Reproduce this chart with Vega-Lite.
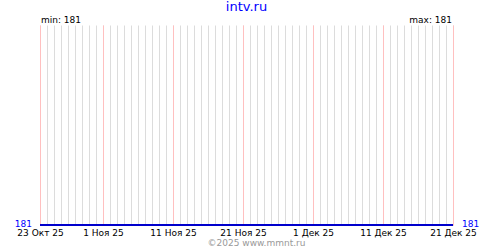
{
  "$schema": "https://vega.github.io/schema/vega-lite/v6.json",
  "width": 413,
  "height": 200,
  "autosize": {"type": "none"},
  "padding": {"left": 40, "top": 25, "right": 47, "bottom": 25},
  "background": "white",
  "title": {"text": "intv.ru", "color": "#0000ff", "fontSize": 13, "fontWeight": "normal", "font": "DejaVu Sans", "anchor": "middle", "offset": 2},
  "config": {"view": {"stroke": null}, "font": "DejaVu Sans"},
  "datasets": {
    "series": [
      {"date": "2025-10-23", "value": 181}, {"date": "2025-10-24", "value": 181}, {"date": "2025-10-25", "value": 181},
      {"date": "2025-10-26", "value": 181}, {"date": "2025-10-27", "value": 181}, {"date": "2025-10-28", "value": 181},
      {"date": "2025-10-29", "value": 181}, {"date": "2025-10-30", "value": 181}, {"date": "2025-10-31", "value": 181},
      {"date": "2025-11-01", "value": 181}, {"date": "2025-11-02", "value": 181}, {"date": "2025-11-03", "value": 181},
      {"date": "2025-11-04", "value": 181}, {"date": "2025-11-05", "value": 181}, {"date": "2025-11-06", "value": 181},
      {"date": "2025-11-07", "value": 181}, {"date": "2025-11-08", "value": 181}, {"date": "2025-11-09", "value": 181},
      {"date": "2025-11-10", "value": 181}, {"date": "2025-11-11", "value": 181}, {"date": "2025-11-12", "value": 181},
      {"date": "2025-11-13", "value": 181}, {"date": "2025-11-14", "value": 181}, {"date": "2025-11-15", "value": 181},
      {"date": "2025-11-16", "value": 181}, {"date": "2025-11-17", "value": 181}, {"date": "2025-11-18", "value": 181},
      {"date": "2025-11-19", "value": 181}, {"date": "2025-11-20", "value": 181}, {"date": "2025-11-21", "value": 181},
      {"date": "2025-11-22", "value": 181}, {"date": "2025-11-23", "value": 181}, {"date": "2025-11-24", "value": 181},
      {"date": "2025-11-25", "value": 181}, {"date": "2025-11-26", "value": 181}, {"date": "2025-11-27", "value": 181},
      {"date": "2025-11-28", "value": 181}, {"date": "2025-11-29", "value": 181}, {"date": "2025-11-30", "value": 181},
      {"date": "2025-12-01", "value": 181}, {"date": "2025-12-02", "value": 181}, {"date": "2025-12-03", "value": 181},
      {"date": "2025-12-04", "value": 181}, {"date": "2025-12-05", "value": 181}, {"date": "2025-12-06", "value": 181},
      {"date": "2025-12-07", "value": 181}, {"date": "2025-12-08", "value": 181}, {"date": "2025-12-09", "value": 181},
      {"date": "2025-12-10", "value": 181}, {"date": "2025-12-11", "value": 181}, {"date": "2025-12-12", "value": 181},
      {"date": "2025-12-13", "value": 181}, {"date": "2025-12-14", "value": 181}, {"date": "2025-12-15", "value": 181},
      {"date": "2025-12-16", "value": 181}, {"date": "2025-12-17", "value": 181}, {"date": "2025-12-18", "value": 181},
      {"date": "2025-12-19", "value": 181}, {"date": "2025-12-20", "value": 181}, {"date": "2025-12-21", "value": 181}
    ],
    "notes": [
      {"side": "min", "date": "2025-10-23", "label": "min: 181", "value": 181},
      {"side": "max", "date": "2025-12-21", "label": "max: 181", "value": 181}
    ]
  },
  "resolve": {"axis": {"x": "independent"}},
  "layer": [
    {
      "data": {"name": "series"},
      "mark": {"type": "line", "color": "#0000cc", "strokeWidth": 2, "interpolate": "linear"},
      "encoding": {
        "x": {
          "field": "date", "type": "temporal",
          "scale": {"type": "utc", "nice": false, "domain": [{"year": 2025, "month": 10, "date": 23, "utc": true}, {"year": 2025, "month": 12, "date": 21, "utc": true}]},
          "axis": {"orient": "top", "labels": false, "ticks": false, "domain": false, "title": null, "grid": true, "gridColor": "#dcdcdc", "gridOpacity": 1, "gridWidth": 1, "tickCount": {"interval": "day", "step": 1}}
        },
        "y": {
          "field": "value", "type": "quantitative",
          "scale": {"domain": [181, 182], "nice": false, "zero": false},
          "axis": {"values": [182], "labels": false, "ticks": false, "domain": false, "title": null, "grid": true, "gridColor": "#dcdcdc", "gridOpacity": 1}
        }
      }
    },
    {
      "data": {"name": "notes"},
      "transform": [{"filter": "datum.side == 'min'"}],
      "mark": {"type": "text", "color": "#0000ff", "align": "right", "baseline": "middle", "dx": -8, "dy": -1, "fontSize": 9},
      "encoding": {
        "x": {
          "field": "date", "type": "temporal",
          "axis": {
            "orient": "bottom",
            "values": [
              {"year": 2025, "month": 10, "date": 23, "utc": true},
              {"year": 2025, "month": 11, "date": 1, "utc": true},
              {"year": 2025, "month": 11, "date": 11, "utc": true},
              {"year": 2025, "month": 11, "date": 21, "utc": true},
              {"year": 2025, "month": 12, "date": 1, "utc": true},
              {"year": 2025, "month": 12, "date": 11, "utc": true},
              {"year": 2025, "month": 12, "date": 21, "utc": true}
            ],
            "labelExpr": "utcdate(datum.value) + ' ' + ['Янв','Фев','Мар','Апр','Май','Июн','Июл','Авг','Сен','Окт','Ноя','Дек'][utcmonth(datum.value)] + ' 25'",
            "labelFontSize": 9, "labelColor": "#000000", "labelPadding": 3, "labelOverlap": false, "labelFlush": false,
            "ticks": false, "domain": false,
            "grid": true, "gridColor": "#ffc0c0", "gridOpacity": 1, "gridWidth": 1,
            "title": "©2025 www.mmnt.ru", "titleColor": "#999999", "titleFontSize": 9, "titleFontWeight": "normal", "titlePadding": 1, "titleX": 216
          }
        },
        "y": {"field": "value", "type": "quantitative", "axis": null},
        "text": {"field": "value", "type": "quantitative"}
      }
    },
    {
      "data": {"name": "notes"},
      "transform": [{"filter": "datum.side == 'max'"}],
      "mark": {"type": "text", "color": "#0000ff", "align": "left", "baseline": "middle", "dx": 9, "dy": -1, "fontSize": 9},
      "encoding": {
        "x": {"field": "date", "type": "temporal", "axis": null},
        "y": {"field": "value", "type": "quantitative", "axis": null},
        "text": {"field": "value", "type": "quantitative"}
      }
    },
    {
      "data": {"name": "notes"},
      "transform": [{"filter": "datum.side == 'min'"}],
      "mark": {"type": "text", "color": "#000000", "align": "left", "baseline": "alphabetic", "dx": 1, "dy": -2, "fontSize": 9},
      "encoding": {
        "x": {"field": "date", "type": "temporal", "axis": null},
        "y": {"value": 0},
        "text": {"field": "label"}
      }
    },
    {
      "data": {"name": "notes"},
      "transform": [{"filter": "datum.side == 'max'"}],
      "mark": {"type": "text", "color": "#000000", "align": "right", "baseline": "alphabetic", "dx": -1, "dy": -2, "fontSize": 9},
      "encoding": {
        "x": {"field": "date", "type": "temporal", "axis": null},
        "y": {"value": 0},
        "text": {"field": "label"}
      }
    }
  ]
}
